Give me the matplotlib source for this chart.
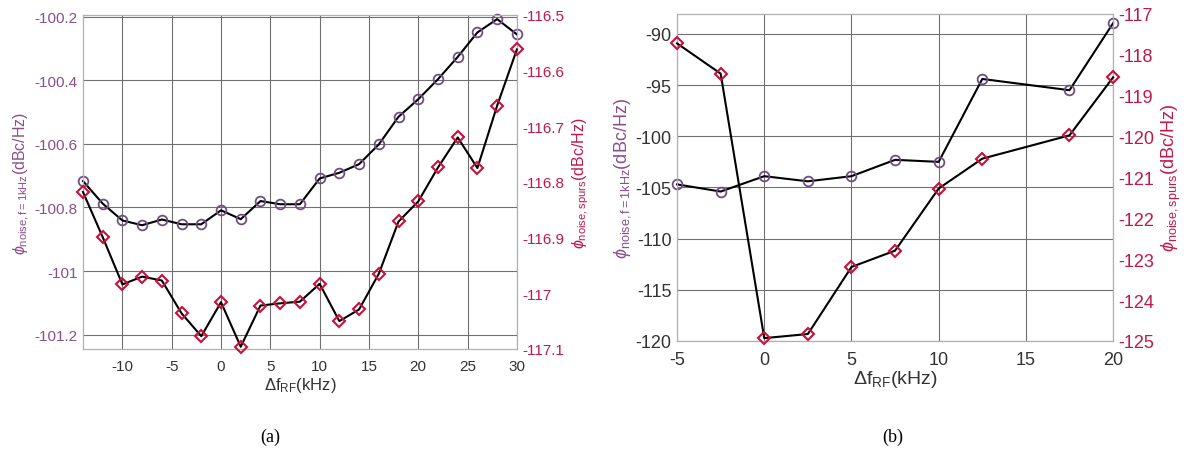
import matplotlib
matplotlib.use('Agg')
import matplotlib.pyplot as plt
import numpy as np

plt.rcParams['font.family'] = ['Liberation Sans', 'DejaVu Sans']
plt.rcParams['mathtext.fontset'] = 'custom'
plt.rcParams['mathtext.rm'] = 'Liberation Sans'
plt.rcParams['mathtext.it'] = 'Liberation Sans:italic'
plt.rcParams['axes.unicode_minus'] = False

# panel (a): frequency offset and the two measured quantities
freq_a = np.arange(-14, 31, 2)
noise_a = [-100.717, -100.788, -100.841, -100.856, -100.838, -100.853, -100.853, -100.809,
           -100.837, -100.780, -100.790, -100.790, -100.709, -100.691, -100.664, -100.602,
           -100.515, -100.460, -100.397, -100.327, -100.250, -100.208, -100.256]
spurs_a = [-116.818, -116.899, -116.984, -116.970, -116.977, -117.036, -117.077, -117.016,
           -117.096, -117.022, -117.018, -117.015, -116.983, -117.050, -117.029, -116.965,
           -116.871, -116.835, -116.774, -116.720, -116.775, -116.663, -116.562]

# panel (b)
freq_b = [-5, -2.5, 0, 2.5, 5, 7.5, 10, 12.5, 17.5, 20]
noise_b = [-104.7, -105.4, -103.9, -104.4, -103.9, -102.3, -102.5, -94.4, -95.5, -88.95]
spurs_b = [-117.72, -118.46, -124.93, -124.83, -123.19, -122.79, -121.27, -120.54, -119.97, -118.55]

purple = '#8a4f8c'
red = '#c0184c'
circ_edge = '#6e5080'
diam_edge = '#c8103c'
grid_col = '#707070'

ylab_noise = r'$\phi_{\mathrm{noise,f=1kHz}}$(dBc/Hz)'
ylab_spurs = r'$\phi_{\mathrm{noise,spurs}}$(dBc/Hz)'
xlab = r'$\Delta$f$_{\mathrm{RF}}$(kHz)'

fig = plt.figure(figsize=(11.92, 4.52), dpi=100)


def style_axes(ax, ax2, fs):
    for a in (ax, ax2):
        for s in a.spines.values():
            s.set_color('#b0b0b0')
            s.set_linewidth(0.8)
        a.tick_params(axis='y', length=0, labelsize=fs, pad=4)
    ax.tick_params(axis='x', length=0, labelsize=fs, pad=7)
    ax.grid(True, color=grid_col, linewidth=0.8)
    ax.set_axisbelow(True)


# ---- (a)
ax = fig.add_axes([0.0696, 0.2257, 0.364, 0.739])
ax2 = ax.twinx()
ax.plot(freq_a, noise_a, '-', color='black', lw=1.5, marker='o', ms=7,
        mfc='none', mec=circ_edge, mew=1.3, zorder=3, clip_on=False)
ax2.plot(freq_a, spurs_a, '-', color='black', lw=1.5, marker='D', ms=6,
         mfc='none', mec=diam_edge, mew=1.5, zorder=3, clip_on=False)
ax.set_xlim(-14, 30)
ax.set_xticks([-10, -5, 0, 5, 10, 15, 20, 25, 30])
ax.set_ylim(-101.245, -100.195)
ax.set_yticks([-100.2, -100.4, -100.6, -100.8, -101, -101.2])
ax.set_yticklabels(['-100.2', '-100.4', '-100.6', '-100.8', '-101', '-101.2'])
ax2.set_ylim(-117.1, -116.5)
ax2.set_yticks([-116.5, -116.6, -116.7, -116.8, -116.9, -117, -117.1])
ax2.set_yticklabels(['-116.5', '-116.6', '-116.7', '-116.8', '-116.9', '-117', '-117.1'])
style_axes(ax, ax2, 11)
ax.tick_params(axis='y', labelcolor=purple)
ax.tick_params(axis='x', labelcolor='#333333')
ax2.tick_params(axis='y', labelcolor=red)
ax.set_ylabel(ylab_noise, color=purple, fontsize=11.5, labelpad=2)
ax2.set_ylabel(ylab_spurs, color=red, fontsize=11.5, labelpad=4)
ax.set_xlabel(xlab, color='#333333', fontsize=12, labelpad=2)

# ---- (b)
bx = fig.add_axes([0.568, 0.2434, 0.3658, 0.7235])
bx2 = bx.twinx()
bx.plot(freq_b, noise_b, '-', color='black', lw=1.5, marker='o', ms=7,
        mfc='none', mec=circ_edge, mew=1.3, zorder=3, clip_on=False)
bx2.plot(freq_b, spurs_b, '-', color='black', lw=1.5, marker='D', ms=6,
         mfc='none', mec=diam_edge, mew=1.5, zorder=3, clip_on=False)
bx.set_xlim(-5, 20)
bx.set_xticks([-5, 0, 5, 10, 15, 20])
bx.set_ylim(-120, -88.05)
bx.set_yticks([-90, -95, -100, -105, -110, -115, -120])
bx2.set_ylim(-125, -117)
bx2.set_yticks(np.arange(-117, -126, -1))
style_axes(bx, bx2, 13)
bx.tick_params(axis='y', labelcolor='#333333')
bx.tick_params(axis='x', labelcolor='#333333')
bx2.tick_params(axis='y', labelcolor=red)
bx.set_ylabel(ylab_noise, color=purple, fontsize=13, labelpad=2)
bx2.set_ylabel(ylab_spurs, color=red, fontsize=13, labelpad=4)
bx.set_xlabel(xlab, color='#333333', fontsize=14, labelpad=0)

fig.text(270 / 1192, 1 - 437 / 452, '(a)', family='Liberation Serif', fontsize=13,
         ha='center', va='center')
fig.text(893 / 1192, 1 - 437 / 452, '(b)', family='Liberation Serif', fontsize=13,
         ha='center', va='center')

fig.savefig('out.png', dpi=100)
